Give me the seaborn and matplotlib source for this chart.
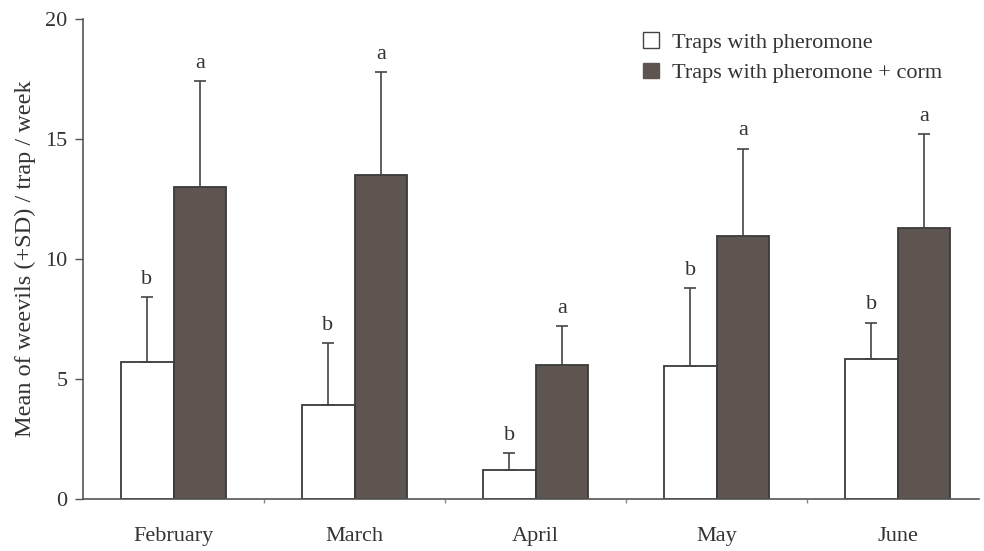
import numpy as np
import pandas as pd
import matplotlib
matplotlib.use("Agg")
import matplotlib.pyplot as plt
import seaborn as sns
from matplotlib.patches import Patch
from matplotlib.ticker import FixedLocator

months = ["February", "March", "April", "May", "June"]
series = ["Traps with pheromone", "Traps with pheromone + corm"]
mean_pher = [5.7, 3.9, 1.2, 5.55, 5.85]
mean_corm = [13.0, 13.5, 5.6, 10.95, 11.3]
sd_pher = [2.7, 2.6, 0.7, 3.25, 1.5]
sd_corm = [4.4, 4.3, 1.6, 3.65, 3.9]
letters_pher = ["b", "b", "b", "b", "b"]
letters_corm = ["a", "a", "a", "a", "a"]

df = pd.DataFrame({
    "month": months * 2,
    "series": [series[0]] * 5 + [series[1]] * 5,
    "mean": mean_pher + mean_corm,
    "sd": sd_pher + sd_corm,
    "letter": letters_pher + letters_corm,
})

sns.set_theme(style="white")
plt.rcParams["font.family"] = ["Liberation Serif", "DejaVu Serif"]
text_col = "#333333"
axis_col = "#555555"
dark = "#5e5550"

fig = plt.figure(figsize=(9.84, 5.51), dpi=100)
ax = fig.add_axes([83 / 984, 1 - 499 / 551, (979 - 83) / 984, (499 - 19) / 551])

sns.barplot(data=df, x="month", y="mean", hue="series", order=months,
            hue_order=series, palette=["white", dark], width=0.585,
            errorbar=None, edgecolor="#3a3a3a", linewidth=1.3, ax=ax,
            legend=False, saturation=1)

# error bars and letters from the bar geometry
for i, s in enumerate(series):
    cont = ax.containers[i]
    sub = df[df["series"] == s].set_index("month").loc[months]
    xs = [p.get_x() + p.get_width() / 2 for p in cont.patches]
    ax.errorbar(xs, sub["mean"].values,
                yerr=[np.zeros(len(xs)), sub["sd"].values],
                fmt="none", ecolor="#444444", elinewidth=1.2, capsize=4,
                capthick=1.2)
    for x, m, sdv, let in zip(xs, sub["mean"].values, sub["sd"].values,
                              sub["letter"].values):
        ax.text(x, m + sdv + 0.55, let, ha="center", va="baseline",
                fontsize=16, color=text_col)

ax.set_xlim(-0.5, 4.45)
ax.set_ylim(0, 20)
ax.set_yticks([0, 5, 10, 15, 20])
ax.set_xlabel("")
ax.set_ylabel("Mean of weevils (+SD) / trap / week", fontsize=17.5,
              color=text_col, labelpad=7)
ax.tick_params(axis="y", direction="out", length=6, width=1, color=axis_col,
               labelsize=16, labelcolor=text_col, left=True, pad=5)
ax.tick_params(axis="x", which="major", length=0, labelsize=16,
               labelcolor=text_col, pad=20)
ax.xaxis.set_minor_locator(FixedLocator([0.5, 1.5, 2.5, 3.5]))
ax.tick_params(axis="x", which="minor", direction="out", length=3,
               width=1, color="#888888", bottom=True)

for sp in ["top", "right"]:
    ax.spines[sp].set_visible(False)
for sp in ["left", "bottom"]:
    ax.spines[sp].set_color(axis_col)
    ax.spines[sp].set_linewidth(1.2)

handles = [Patch(facecolor="white", edgecolor="#444444", linewidth=1),
           Patch(facecolor=dark, edgecolor=dark)]
leg = ax.legend(handles, series, loc="upper left",
                bbox_to_anchor=((630 - 83) / 896, 1.0 + 0 / 480),
                frameon=False, fontsize=16, handlelength=0.7,
                handleheight=0.7, handletextpad=0.6, labelspacing=0.45,
                borderaxespad=0.2)
for t in leg.get_texts():
    t.set_color(text_col)

fig.savefig("out.png", dpi=100)
